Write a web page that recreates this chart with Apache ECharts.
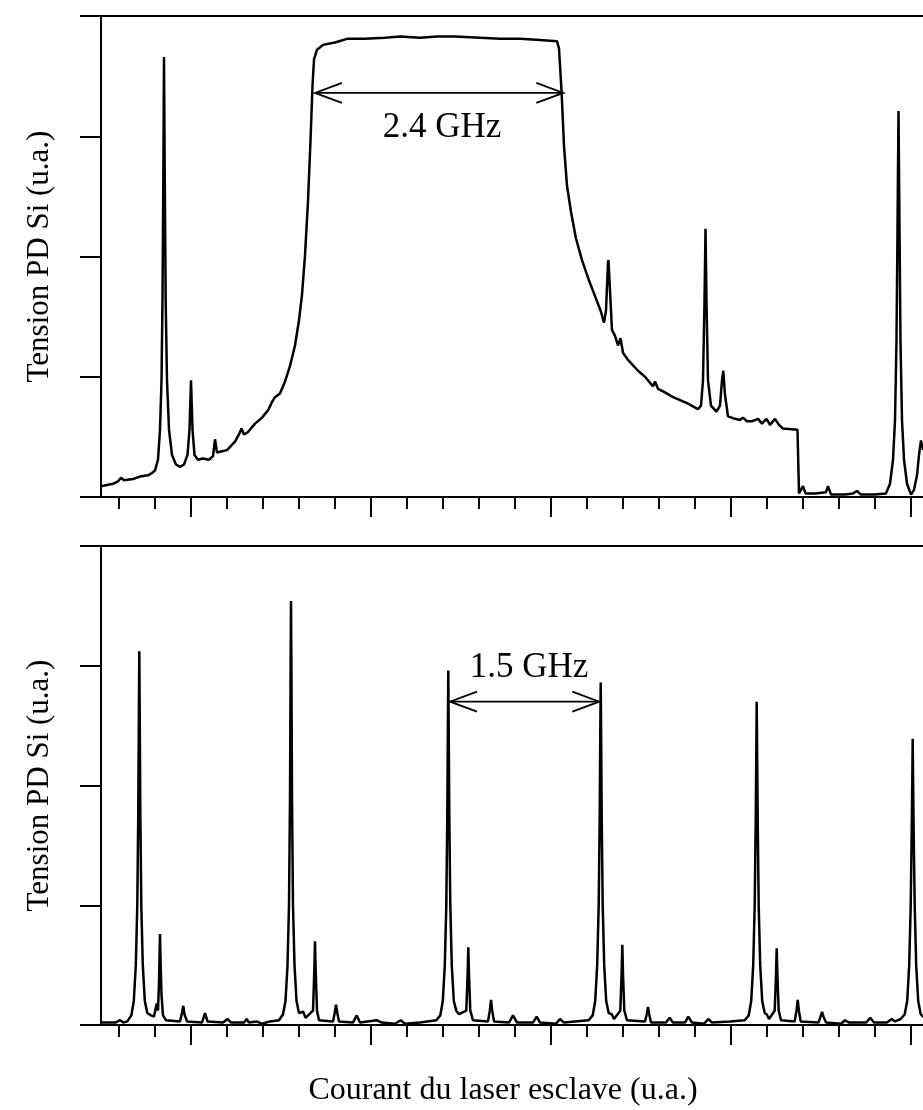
<!DOCTYPE html>
<html><head><meta charset="utf-8">
<script src="https://cdn.jsdelivr.net/npm/echarts@6/dist/echarts.min.js"></script>
<style>html,body{margin:0;padding:0;background:#fff}#c{width:923px;height:1110px}</style>
</head><body><div id="c"></div>
<script>
// ---- data (arbitrary units: x in 0..230, y in 0..4) ----
const tickCategories = ['t1','t2','t3','t4','t5','t6','t7','t8','t9','t10','t11','t12','t13','t14','t15','t16','t17','t18','t19','t20','t21','t22','t23'];
const majorTickIndices = [2, 7, 12, 17, 22];
const yLabel = 'Tension PD Si (u.a.)';
const xLabel = 'Courant du laser esclave (u.a.)';

const topTrace = [
[0,0.09],[3.33,0.11],[4.72,0.13],[5.56,0.16],[6.39,0.14],[8.89,0.15],[10.83,0.17],[13.06,0.18],[14.17,0.20],[15.0,0.22],
[15.83,0.31],[16.39,0.56],[16.81,0.97],[17.08,1.63],[17.31,2.63],[17.5,3.66],[17.72,2.63],[17.97,1.63],[18.33,0.97],[18.89,0.56],
[19.72,0.35],[20.83,0.27],[21.94,0.25],[23.06,0.27],[24.03,0.35],[24.58,0.56],[25.0,0.97],[25.42,0.56],[25.97,0.35],[26.94,0.31],
[28.33,0.32],[30.0,0.31],[31.11,0.34],[31.67,0.48],[32.22,0.37],[33.61,0.38],[35.0,0.39],[37.22,0.46],[38.33,0.52],[39.03,0.57],
[39.72,0.52],[40.83,0.54],[42.78,0.61],[44.72,0.66],[46.39,0.72],[47.5,0.79],[48.33,0.83],[49.72,0.86],[51.11,0.96],[52.5,1.09],
[53.89,1.26],[55.0,1.47],[55.83,1.68],[56.67,2.01],[57.5,2.46],[58.19,2.96],[58.75,3.42],[59.17,3.64],[60.0,3.72],[61.67,3.76],
[65.0,3.78],[68.33,3.81],[73.33,3.81],[78.89,3.82],[83.06,3.83],[88.61,3.82],[93.33,3.83],[98.33,3.83],[105.28,3.82],[110.83,3.81],
[116.39,3.81],[121.94,3.80],[126.67,3.79],[127.22,3.73],[127.92,3.38],[128.61,2.92],[129.44,2.59],[130.56,2.37],[131.94,2.15],[133.61,1.97],
[135.56,1.80],[137.5,1.65],[138.89,1.54],[139.72,1.45],[140.28,1.55],[140.83,1.95],[140.97,1.97],[141.53,1.63],[141.94,1.39],[142.78,1.34],
[143.61,1.26],[144.31,1.32],[145.0,1.20],[146.39,1.14],[149.17,1.05],[151.11,1.00],[153.33,0.92],[153.89,0.96],[154.72,0.90],[156.67,0.87],
[158.89,0.83],[162.78,0.78],[165.83,0.73],[166.67,0.76],[167.22,0.97],[167.64,1.63],[167.92,2.23],[168.19,1.63],[168.61,0.97],[169.44,0.76],
[170.97,0.71],[171.94,0.76],[172.5,0.97],[172.86,1.05],[173.33,0.85],[174.17,0.67],[176.11,0.65],[177.5,0.64],[178.33,0.66],[179.44,0.63],
[180.83,0.63],[182.5,0.65],[183.61,0.61],[184.86,0.65],[185.83,0.60],[187.22,0.65],[188.33,0.60],[189.44,0.57],[193.47,0.56],[193.89,0.03],
[194.44,0.04],[195.0,0.09],[195.69,0.03],[198.33,0.03],[201.39,0.04],[201.94,0.09],[202.78,0.02],[206.67,0.02],[208.89,0.03],[210.0,0.05],
[211.11,0.02],[215.0,0.02],[218.06,0.03],[219.17,0.11],[220.0,0.31],[220.56,0.64],[220.97,1.30],[221.25,2.22],[221.53,3.21],[221.81,2.22],
[222.08,1.30],[222.5,0.64],[223.06,0.31],[223.89,0.11],[225.0,0.02],[225.83,0.06],[226.67,0.18],[227.22,0.35],[227.78,0.47],[228.33,0.39]
];

const bottomTrace = [
[0,0.02],[4.0,0.02],[5.3,0.04],[6.2,0.02],
[7.31,0.03],[8.42,0.08],[9.11,0.20],[9.67,0.50],[10.08,1.00],[10.36,1.80],[10.53,2.65],[10.64,3.12],[10.75,2.65],[10.92,1.80],
[11.19,1.00],[11.61,0.50],[12.17,0.20],[12.86,0.10],[13.89,0.08],[14.72,0.07],[15.47,0.18],[15.83,0.12],
[16.11,0.35],[16.28,0.60],[16.39,0.76],[16.53,0.55],[16.81,0.25],[17.22,0.08],[18.06,0.04],
[21.94,0.03],[22.5,0.10],[22.86,0.16],[23.19,0.09],[23.89,0.03],
[28.06,0.02],[28.89,0.10],[29.58,0.03],[33.89,0.02],[35.19,0.05],[36.11,0.02],[39.72,0.02],[40.47,0.05],[41.11,0.02],
[43.25,0.03],[44.72,0.01],[46.94,0.03],
[49.44,0.04],[50.56,0.09],[51.25,0.20],[51.81,0.50],[52.22,1.00],[52.5,1.90],[52.67,3.0],[52.78,3.54],[52.89,3.0],[53.06,1.90],
[53.33,1.00],[53.75,0.50],[54.31,0.20],[55.0,0.10],[56.19,0.11],[56.81,0.06],
[58.89,0.12],[59.25,0.45],[59.44,0.70],[59.64,0.45],[60.0,0.12],[60.56,0.04],
[64.44,0.03],[64.92,0.10],[65.28,0.17],[65.64,0.10],[66.11,0.03],
[70.0,0.02],[71.03,0.08],[71.94,0.02],[76.58,0.04],[78.0,0.02],[81.67,0.01],[83.25,0.04],[84.44,0.01],
[88.61,0.02],[93.14,0.04],[94.25,0.08],[94.94,0.20],[95.5,0.50],[95.92,1.00],[96.19,1.75],[96.36,2.5],[96.47,2.96],[96.58,2.5],
[96.75,1.75],[97.03,1.00],[97.44,0.50],[98.0,0.20],[98.69,0.12],[99.44,0.09],
[101.47,0.12],[101.83,0.42],[102.03,0.65],[102.22,0.42],[102.58,0.12],[103.33,0.04],
[107.5,0.03],[108.0,0.12],[108.33,0.21],[108.67,0.12],[109.17,0.03],
[113.33,0.02],[114.44,0.08],[115.56,0.02],[120.0,0.02],[121.03,0.07],[121.94,0.02],[126.39,0.01],[127.5,0.05],[128.61,0.02],
[131.67,0.03],[135.47,0.04],[136.58,0.08],[137.28,0.20],[137.83,0.50],[138.25,1.00],[138.53,1.75],[138.69,2.45],[138.81,2.86],[138.92,2.45],
[139.08,1.75],[139.36,1.00],[139.78,0.50],[140.33,0.20],[141.03,0.10],[141.86,0.09],[142.5,0.05],
[144.25,0.12],[144.61,0.43],[144.81,0.67],[145.0,0.43],[145.36,0.12],[146.11,0.04],
[151.11,0.03],[151.61,0.09],[151.94,0.15],[152.28,0.09],[152.78,0.02],
[156.94,0.02],[157.97,0.06],[158.89,0.02],[162.22,0.02],[163.14,0.07],[164.17,0.02],[167.5,0.01],[168.69,0.05],[169.72,0.02],
[174.72,0.03],[178.81,0.04],[179.92,0.08],[180.61,0.20],[181.17,0.50],[181.58,1.00],[181.86,1.70],[182.03,2.30],[182.14,2.70],[182.25,2.30],
[182.42,1.70],[182.69,1.00],[183.11,0.50],[183.67,0.20],[184.36,0.10],[184.92,0.09],[185.56,0.05],
[187.14,0.12],[187.5,0.42],[187.69,0.64],[187.89,0.42],[188.25,0.12],[188.89,0.04],
[192.69,0.03],[193.19,0.12],[193.53,0.21],[193.86,0.12],[194.36,0.03],
[199.31,0.02],[199.86,0.07],[200.28,0.11],[200.69,0.07],[201.39,0.02],
[205.56,0.01],[206.67,0.04],[207.78,0.02],[212.5,0.02],[213.69,0.06],[214.72,0.02],[218.33,0.02],[219.64,0.05],[220.56,0.03],
[222.14,0.05],[223.25,0.09],[223.94,0.20],[224.5,0.50],[224.92,1.00],[225.19,1.60],[225.36,2.05],[225.47,2.39],[225.58,2.05],[225.75,1.60],
[226.03,1.00],[226.44,0.50],[227.0,0.20],[227.69,0.09],[228.33,0.07],[230,0.06]
];

// arrows: [x start, x end, y, label x, label y]
const topArrow = [[59.44, 128.42, 3.36, 94.72, 3.07]];
const topArrowLabel = '2.4 GHz';
const bottomArrow = [[96.94, 138.42, 2.70, 118.89, 2.98]];
const bottomArrowLabel = '1.5 GHz';

// ---- chart ----
const FONT = '"Liberation Serif", "Times New Roman", "DejaVu Serif", serif';
const black = '#000';
const chart = echarts.init(document.getElementById('c'));

function arrowRenderer(label) {
  return function (params, api) {
    const a = api.coord([api.value(0), api.value(2)]);
    const b = api.coord([api.value(1), api.value(2)]);
    const t = api.coord([api.value(3), api.value(4)]);
    const L = 27, W = 10;
    const st = { stroke: black, lineWidth: 1.8, fill: null };
    return { type: 'group', children: [
      { type: 'line', shape: { x1: a[0], y1: a[1], x2: b[0], y2: b[1] }, style: st },
      { type: 'polyline', shape: { points: [[a[0] + L, a[1] - W], [a[0], a[1]], [a[0] + L, a[1] + W]] }, style: st },
      { type: 'polyline', shape: { points: [[b[0] - L, b[1] - W], [b[0], b[1]], [b[0] - L, b[1] + W]] }, style: st },
      { type: 'text', x: t[0], y: t[1], style: { text: label, fontSize: 35, fontFamily: FONT, fill: black, align: 'center', verticalAlign: 'middle' } }
    ]};
  };
}

function xAxesFor(gridIndex) {
  return [
    { type: 'value', gridIndex, position: 'bottom', min: 0, max: 230,
      axisLine: { show: true, onZero: false, lineStyle: { color: black, width: 2 } },
      axisTick: { show: false }, axisLabel: { show: false }, splitLine: { show: false } },
    { type: 'category', gridIndex, position: 'bottom', data: tickCategories, boundaryGap: true,
      axisLine: { show: false, onZero: false },
      axisTick: { show: true, alignWithLabel: true, interval: 0, length: 12, inside: false, lineStyle: { color: black, width: 2 } },
      axisLabel: { show: false }, splitLine: { show: false } },
    { type: 'category', gridIndex, position: 'bottom', data: tickCategories, boundaryGap: true,
      axisLine: { show: false, onZero: false },
      axisTick: { show: true, alignWithLabel: true, interval: (i) => majorTickIndices.indexOf(i) >= 0, length: 20, inside: false, lineStyle: { color: black, width: 2 } },
      axisLabel: { show: false }, splitLine: { show: false } },
    { type: 'value', gridIndex, position: 'top', min: 0, max: 230,
      axisLine: { show: true, onZero: false, lineStyle: { color: black, width: 2 } },
      axisTick: { show: false }, axisLabel: { show: false }, splitLine: { show: false } }
  ];
}

function yAxisFor(gridIndex) {
  return { type: 'value', gridIndex, min: 0, max: 4, interval: 1, position: 'left',
    name: yLabel, nameLocation: 'middle', nameGap: 46,
    nameTextStyle: { fontFamily: FONT, fontSize: 31, color: black },
    axisLine: { show: true, onZero: false, lineStyle: { color: black, width: 2 } },
    axisTick: { show: true, inside: false, length: 21, lineStyle: { color: black, width: 2 } },
    axisLabel: { show: false }, splitLine: { show: false } };
}

chart.setOption({
  animation: false,
  backgroundColor: '#fff',
  grid: [
    { left: 101, top: 16, width: 828, height: 481, outerBoundsMode: 'none', containLabel: false },
    { left: 101, top: 546, width: 828, height: 479, outerBoundsMode: 'none', containLabel: false }
  ],
  xAxis: [...xAxesFor(0), ...xAxesFor(1)],
  yAxis: [yAxisFor(0), yAxisFor(1)],
  graphic: [
    { type: 'text', x: 503, y: 1091, style: { text: xLabel, fontSize: 32, fontFamily: FONT, fill: black, align: 'center', verticalAlign: 'middle' } }
  ],
  series: [
    { type: 'line', xAxisIndex: 0, yAxisIndex: 0, data: topTrace, showSymbol: false, symbol: 'none',
      lineStyle: { color: black, width: 2.5 }, clip: true },
    { type: 'line', xAxisIndex: 4, yAxisIndex: 1, data: bottomTrace, showSymbol: false, symbol: 'none',
      lineStyle: { color: black, width: 2.5 }, clip: true },
    { type: 'custom', xAxisIndex: 0, yAxisIndex: 0, data: topArrow, renderItem: arrowRenderer(topArrowLabel),
      encode: { x: [0, 1, 3], y: [2, 4] } },
    { type: 'custom', xAxisIndex: 4, yAxisIndex: 1, data: bottomArrow, renderItem: arrowRenderer(bottomArrowLabel),
      encode: { x: [0, 1, 3], y: [2, 4] } }
  ]
});
</script></body></html>
